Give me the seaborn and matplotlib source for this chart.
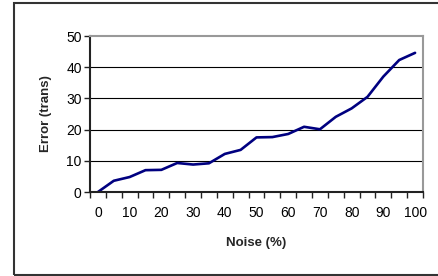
import matplotlib
matplotlib.use("Agg")
import matplotlib.pyplot as plt
import seaborn as sns
import numpy as np
from matplotlib.patches import Rectangle

noise = [0, 5, 10, 15, 20, 25, 30, 35, 40, 45, 50, 55, 60, 65, 70, 75, 80, 85, 90, 95, 100]
error = [0.0, 3.6, 4.8, 7.0, 7.1, 9.3, 8.8, 9.2, 12.2, 13.5, 17.5, 17.6, 18.6,
         20.9, 20.1, 24.1, 26.8, 30.5, 37.0, 42.3, 44.6]
y_ticks = [0, 10, 20, 30, 40, 50]

sns.set_theme(style="white")
plt.rcParams['font.family'] = ['Liberation Sans', 'DejaVu Sans']

fig = plt.figure(figsize=(4.38, 2.76), dpi=100)
ax = fig.add_axes([90/438, 1-192/276, (423-90)/438, (192-36)/276])

pos = np.arange(len(noise))
sns.lineplot(x=pos, y=error, ax=ax, color="#000080", linewidth=1.9)

ax.set_xlim(-0.5, len(noise) - 0.5)
ax.set_ylim(0, 50)
ax.set_yticks(y_ticks)
ax.set_yticklabels([str(v) for v in y_ticks], fontsize=10, color="black")
ax.set_xticks(pos[::2])
ax.set_xticklabels([str(n) for n in noise[::2]], fontsize=10, color="black")
ax.set_xticks(np.arange(len(noise) + 1) - 0.5, minor=True)
ax.tick_params(axis='x', which='major', length=0, pad=10)
ax.tick_params(axis='x', which='minor', length=4, width=1, color="#222222", direction='out', bottom=True)
ax.tick_params(axis='y', which='major', length=4, width=1, color="#222222", direction='out', left=True, pad=2)

for v in y_ticks[1:-1]:
    ax.axhline(v, color="black", linewidth=0.8, zorder=0)

for s in ['left', 'bottom']:
    ax.spines[s].set_color("#222222")
    ax.spines[s].set_linewidth(1.5)
for s in ['top', 'right']:
    ax.spines[s].set_color("#999999")
    ax.spines[s].set_linewidth(1.5)
    ax.spines[s].set_visible(True)

ax.set_xlabel("Noise (%)", fontsize=9.5, fontweight='bold', labelpad=12)
ax.set_ylabel("Error (trans)", fontsize=9.5, fontweight='bold', labelpad=10)

fig.patches.append(Rectangle((14/438, 1-275/276), 1.0, (275-3)/276, transform=fig.transFigure,
                             fill=False, edgecolor="#333333", linewidth=1.5, clip_on=False))

fig.savefig("out.png", dpi=100)
